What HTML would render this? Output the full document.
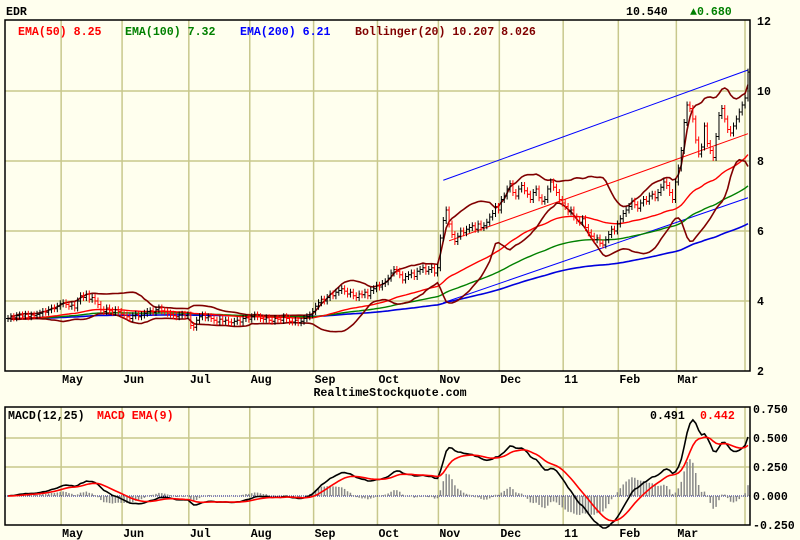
<!DOCTYPE html>
<html><head><meta charset="utf-8">
<style>
html,body{margin:0;padding:0;background:#ffffee;}
svg{display:block;font-family:"Liberation Mono",monospace;font-size:11.6px;font-weight:bold;}
</style></head>
<body>
<svg id="c" width="800" height="540" viewBox="0 0 800 540" xmlns="http://www.w3.org/2000/svg">
<rect x="0" y="0" width="800" height="540" fill="#ffffee"/>
</svg>
<script>
const closes=[3.50,3.55,3.52,3.58,3.60,3.57,3.62,3.55,3.60,3.58,3.62,3.65,3.70,3.68,3.75,3.80,3.78,3.85,3.92,
3.95,3.90,3.85,3.88,3.80,4.00,4.15,4.10,4.20,4.05,4.10,4.00,3.90,3.75,3.70,3.80,3.72,3.68,3.75,3.70,3.62,
3.60,3.55,3.50,3.58,3.62,3.55,3.60,3.65,3.70,3.72,3.68,3.75,3.80,3.72,3.70,3.65,3.62,3.58,3.55,3.60,3.62,3.58,3.60,
3.30,3.25,3.45,3.55,3.60,3.52,3.55,3.50,3.45,3.40,3.48,3.42,3.45,3.40,3.38,3.42,3.45,3.40,3.50,3.52,3.48,
3.55,3.60,3.55,3.50,3.48,3.52,3.45,3.42,3.50,3.48,3.45,3.55,3.50,3.42,3.40,3.45,3.38,3.42,3.50,3.55,3.60,3.70,
3.85,3.95,4.05,4.00,4.10,4.20,4.15,4.25,4.30,4.35,4.28,4.20,4.25,4.15,4.10,4.20,4.18,4.25,4.15,4.30,4.35,4.45,
4.40,4.50,4.55,4.65,4.80,4.90,4.85,4.75,4.60,4.70,4.75,4.80,4.70,4.85,4.90,4.95,4.85,4.90,4.95,4.80,4.95,
5.80,6.30,6.60,6.20,5.90,5.70,5.85,6.00,5.95,6.05,6.10,6.15,6.05,6.20,6.10,6.15,6.25,6.40,6.50,6.70,6.60,
6.90,7.00,7.20,7.35,7.10,7.00,7.20,7.30,7.15,7.05,6.90,7.10,7.20,6.95,6.85,6.90,7.20,7.40,7.25,7.10,6.90,6.80,
6.70,6.55,6.60,6.40,6.30,6.25,6.35,6.10,5.95,5.85,5.75,5.80,5.65,5.60,5.75,5.90,6.05,6.00,6.20,
6.35,6.50,6.60,6.70,6.85,6.75,6.65,6.80,6.90,6.85,7.00,7.05,6.95,7.10,7.25,7.40,7.30,7.10,6.90,7.40,
7.80,8.30,9.10,9.60,9.50,9.20,8.60,8.20,8.40,9.00,8.50,8.30,8.10,8.70,9.30,9.50,9.20,8.90,8.80,9.00,9.20,9.40,9.60,9.80,10.54];
const months=["May","Jun","Jul","Aug","Sep","Oct","Nov","Dec","11","Feb","Mar"];
const monthStart=[19,40,63,84,106,128,149,170,192,211,231];
const priceTicks=[12,10,8,6,4,2];
const macdTicks=[0.75,0.5,0.25,0,-0.25];
const macdTickLabels=["0.750","0.500","0.250","0.000","-0.250"];
// trend channel: [startIndex,startPrice,endIndex,endPrice]
const chanUpper=[150,7.45,255,10.6];
const chanMid=[152,5.72,255,8.78];
const chanLower=[150,3.95,255,6.95];

const svg=document.getElementById('c');
const NS="http://www.w3.org/2000/svg";
const L=5,R=750,T=20,B=371,MT=407,MB=525;
const N=closes.length;
const xs=i=>8+i*(R-10)/(N-1);
const yp=p=>B-(p-2)*35;
const ym=v=>496-v*116;
function el(tag,attrs,name){const e=document.createElementNS(NS,tag);for(const k in attrs)e.setAttribute(k,attrs[k]);
 
 
 svg.appendChild(e);return e;}
function txt(x,y,s,fill,name,anchor){const e=el('text',{x:x,y:y,fill:fill,'text-anchor':anchor||'start'},name);e.textContent=s;return e;}
function poly(vals,yf,color,name,w,start){let d="";vals.forEach((v,i)=>{if(v==null||i<(start||0))return;d+=(d?"L":"M")+xs(i).toFixed(1)+" "+yf(v).toFixed(1);});
 return el('path',{d:d,fill:'none',stroke:color,'stroke-width':w||1.3},name);}
function ema(a,n){const k=2/(n+1);const o=[];let e=a[0];a.forEach((v,i)=>{e=i?v*k+e*(1-k):v;o.push(e);});return o;}

const grid="#c8c88c";
priceTicks.forEach(p=>{if(p>2&&p<12)el('line',{x1:L,x2:R,y1:yp(p),y2:yp(p),stroke:grid,'stroke-width':1.5},'price-gridline');});
monthStart.forEach(i=>{const x=xs(i)-2;el('line',{x1:x,x2:x,y1:T,y2:B,stroke:grid,'stroke-width':1.5},'month-gridline');
 el('line',{x1:x,x2:x,y1:MT,y2:MB,stroke:grid,'stroke-width':1.5},'macd-month-gridline');});
el('line',{x1:R-5,x2:R-5,y1:T,y2:B,stroke:grid,'stroke-width':1.5},'month-gridline');
el('line',{x1:R-5,x2:R-5,y1:MT,y2:MB,stroke:grid,'stroke-width':1.5},'macd-month-gridline');
[0.5,0.25].forEach(v=>el('line',{x1:L,x2:R,y1:ym(v),y2:ym(v),stroke:grid,'stroke-width':1.5},'macd-gridline'));

const e50=ema(closes,50),e100=ema(closes,100),e200=ema(closes,200);
const bu=[],bl=[];
closes.forEach((c,i)=>{const s=closes.slice(Math.max(0,i-19),i+1);const m=s.reduce((a,b)=>a+b,0)/s.length;
 const sd=Math.sqrt(s.reduce((a,b)=>a+(b-m)*(b-m),0)/s.length);bu.push(m+2*sd);bl.push(m-2*sd);});
function line2(c,color,name){el('line',{x1:xs(c[0]),y1:yp(c[1]),x2:xs(c[2]),y2:yp(c[3]),stroke:color,'stroke-width':1},name);}
line2(chanUpper,'#0000ff','channel-upper');line2(chanMid,'#ff0000','channel-mid');line2(chanLower,'#0000ff','channel-lower');
poly(e200,yp,'#0000dd','ema200-line',1.6);
poly(e100,yp,'#008000','ema100-line',1.4);
poly(e50,yp,'#ff0000','ema50-line',1.4);
poly(bu,yp,'#800000','bollinger-upper',1.6,1);
poly(bl,yp,'#800000','bollinger-lower',1.6,1);

closes.forEach((c,i)=>{const o=i?closes[i-1]:c;const hi=Math.max(o,c)+0.1,lo=Math.min(o,c)-0.1;const col=c<o?'#ff0000':'#000000';const x=xs(i);
 el('line',{x1:x,x2:x,y1:yp(hi),y2:yp(lo),stroke:col,'stroke-width':1},'price-bar');
 el('line',{x1:x-2,x2:x,y1:yp(o),y2:yp(o),stroke:col,'stroke-width':1},'price-bar-open');
 el('line',{x1:x,x2:x+2,y1:yp(c),y2:yp(c),stroke:col,'stroke-width':1},'price-bar-close');});

const e12=ema(closes,12),e25=ema(closes,25);
const macd=e12.map((v,i)=>v-e25[i]);const sig=ema(macd,9);
el('line',{x1:L,x2:R,y1:ym(0),y2:ym(0),stroke:'#000080','stroke-width':1,'stroke-dasharray':'1 1'},'macd-zero-line');
macd.forEach((m,i)=>{const h=(m-sig[i])*1.3;el('line',{x1:xs(i),x2:xs(i),y1:ym(0),y2:ym(h),stroke:'#888888','stroke-width':1.5},'macd-histogram-bar');});
poly(macd,ym,'#000000','macd-line',1.6);
poly(sig,ym,'#ff0000','macd-signal-line',1.6);

el('rect',{x:L,y:T,width:R-L,height:B-T,fill:'none',stroke:'#000','stroke-width':1.5},'price-plot-frame');
el('rect',{x:L,y:MT,width:R-L,height:MB-MT,fill:'none',stroke:'#000','stroke-width':1.5},'macd-plot-frame');

priceTicks.forEach(p=>txt(757,yp(p)+4,String(p),'#000','price-tick-label'));
macdTicks.forEach((v,i)=>txt(753,ym(v)+4,macdTickLabels[i],'#000','macd-tick-label'));
monthStart.forEach((i,k)=>{txt(xs(i)-1,383,months[k],'#000','month-label');txt(xs(i)-1,537,months[k],'#000','macd-month-label');});
txt(6,15,'EDR','#000','ticker-symbol');
txt(626,15,'10.540','#000','last-price');
txt(690,15,'▲0.680','#008000','price-change');
txt(18,35,'EMA(50) 8.25','#ff0000','legend-ema50');
txt(125,35,'EMA(100) 7.32','#008000','legend-ema100');
txt(240,35,'EMA(200) 6.21','#0000ff','legend-ema200');
txt(355,35,'Bollinger(20) 10.207 8.026','#800000','legend-bollinger');
txt(390,396,'RealtimeStockquote.com','#000','watermark','middle');
txt(8,419,'MACD(12,25)','#000','legend-macd');
txt(97,419,'MACD EMA(9)','#ff0000','legend-macd-signal');
txt(650,419,'0.491','#000','macd-value');
txt(700,419,'0.442','#ff0000','macd-signal-value');
</script>
</body></html>
